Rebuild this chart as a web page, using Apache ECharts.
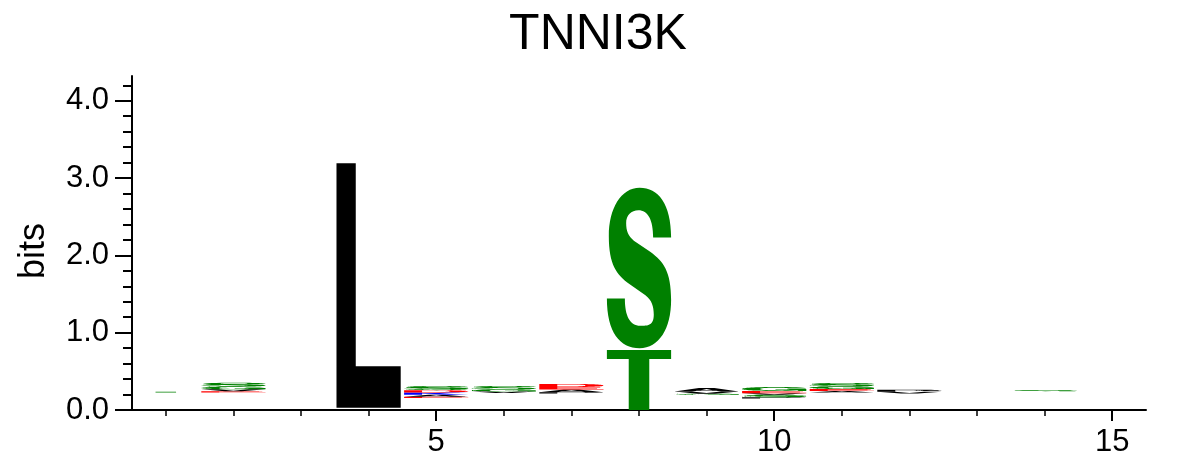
<!DOCTYPE html>
<html>
<head>
<meta charset="utf-8">
<script src="https://cdn.jsdelivr.net/npm/echarts@6/dist/echarts.min.js"></script>
<style>
html,body{margin:0;padding:0;background:#fff;}
#chart{width:1196px;height:471px;}
</style>
</head>
<body>
<div id="chart"></div>
<script>
// ---- data ----
const chartTitle = 'TNNI3K';
const positions = [1,2,3,4,5,6,7,8,9,10,11,12,13,14,15];
// letters from bottom to top; '' = undrawn residual (letters too small to show)
const stackLetters = [
  ['', 'T'],
  ['', 'E', 'V', 'G', 'S'],
  [],
  ['', 'L'],
  ['', 'E', 'A', 'K', 'D', 'S'],
  ['', 'V', 'G', 'S'],
  ['', 'P', 'A', 'E', 'D'],
  ['T', '', 'S'],
  ['', 'G', 'V', 'A'],
  ['', 'P', 'S', 'V', 'E', 'G'],
  ['', 'A', 'E', 'G', 'S'],
  ['', 'V', 'P'],
  [],
  ['', 'S'],
  []
];
const stackHeights = [
  [0.225, 0.012],
  [0.225, 0.018, 0.024, 0.035, 0.05],
  [],
  [0.03, 3.16],
  [0.155, 0.016, 0.026, 0.03, 0.03, 0.055],
  [0.22, 0.02, 0.025, 0.045],
  [0.215, 0.016, 0.035, 0.03, 0.04],
  [0.775, 0.025, 2.074],
  [0.195, 0.016, 0.028, 0.045],
  [0.15, 0.016, 0.03, 0.022, 0.028, 0.05],
  [0.225, 0.02, 0.026, 0.032, 0.045],
  [0.215, 0.02, 0.028],
  [],
  [0.24, 0.015],
  []
];
const xTickValues = [1,2,3,4,5,6,7,8,9,10,11,12,13,14,15];
const xLabelValues = [5, 10, 15];
const yLabelValues = [0, 1, 2, 3, 4];
const yMinorTickValues = [0,0.2,0.4,0.6,0.8,1,1.2,1.4,1.6,1.8,2,2.2,2.4,2.6,2.8,3,3.2,3.4,3.6,3.8,4,4.2];

// ---- glyph outlines (unit box, scaled to each letter's box) ----
const GLYPHS = {
  L: 'M0 0 H30 V83 H100 V100 H0 Z',
  T: 'M0 0 H100 V15 H66 V100 H34 V15 H0 Z',
  S: 'M100 31 C100 10 80 0 51 0 C22 0 3 13 3 30 C3 48 15 54 35 60 L60 67 C70 70 73 74 73 79 C73 86 64 86 52 86 C36 86 28 80 28 69 L0 69 C0 90 20 100 51 100 C81 100 100 88 100 70 C100 52 88 46 68 40 L42 33 C33 30 30 27 30 22 C30 17 38 14 49 14 C64 14 72 20 72 31 Z',
  E: 'M0 0 H95 V17 H28 V41 H90 V58 H28 V83 H100 V100 H0 Z',
  D: 'M0 0 H50 C85 0 100 20 100 50 C100 80 85 100 50 100 H0 Z M28 17 V83 H48 C65 83 72 70 72 50 C72 30 65 17 48 17 Z',
  A: 'M0 100 L38 0 H62 L100 100 H73 L65 78 H35 L27 100 Z M41 60 H59 L50 30 Z',
  V: 'M0 0 H27 L50 72 L73 0 H100 L63 100 H37 Z',
  K: 'M0 0 H28 V42 L68 0 H100 L55 45 L100 100 H68 L37 62 L28 71 V100 H0 Z',
  P: 'M0 0 H60 C85 0 100 13 100 32 C100 52 85 64 60 64 H28 V100 H0 Z M28 17 V47 H57 C67 47 72 41 72 32 C72 23 67 17 57 17 Z',
  G: 'M100 35 C97 12 78 0 52 0 C20 0 0 20 0 50 C0 80 20 100 50 100 C66 100 78 94 86 83 L88 98 H100 V48 H52 V64 H74 C72 77 63 84 51 84 C36 84 28 72 28 50 C28 28 37 16 51 16 C63 16 70 23 72 35 Z'
};
const COLORS = {
  G:'#008000', S:'#008000', T:'#008000', Y:'#008000', C:'#008000',
  N:'#800080', Q:'#800080',
  K:'#0000FF', R:'#0000FF', H:'#0000FF',
  D:'#FF0000', E:'#FF0000',
  A:'#000000', V:'#000000', L:'#000000', I:'#000000', P:'#000000', W:'#000000', F:'#000000', M:'#000000'
};

// build letter boxes from the stacks
const letterBoxes = [];
const letterChars = [];
positions.forEach((pos, i) => {
  let y = 0;
  stackLetters[i].forEach((ch, j) => {
    const h = stackHeights[i][j];
    if (ch) {
      letterBoxes.push([pos, y, y + h]);
      letterChars.push(ch);
    }
    y += h;
  });
});

const chart = echarts.init(document.getElementById('chart'), null, {renderer: 'canvas'});
const FONT = '"Liberation Sans", Arial, Helvetica, sans-serif';
const HALF = 0.475;

chart.setOption({
  animation: false,
  backgroundColor: '#ffffff',
  title: {
    text: chartTitle,
    left: 'center',
    top: 5,
    textStyle: {fontFamily: FONT, fontSize: 50, fontWeight: 'normal', color: '#000'}
  },
  grid: {left: 132, right: 50, top: 76, bottom: 61},
  xAxis: [
    {
      type: 'value', min: 0.5, max: 15.5,
      axisLine: {show: true, onZero: false, lineStyle: {color: '#000', width: 2}},
      axisTick: {show: true, customValues: xTickValues, length: 6, lineStyle: {color: '#000', width: 1.5}},
      axisLabel: {show: false},
      splitLine: {show: false}
    },
    {
      type: 'value', min: 0.5, max: 15.5, position: 'bottom',
      axisLine: {show: false, onZero: false},
      axisTick: {show: true, customValues: xLabelValues, length: 11, lineStyle: {color: '#000', width: 2}},
      axisLabel: {show: true, customValues: xLabelValues, margin: 17, fontFamily: FONT, fontSize: 31, color: '#000'},
      splitLine: {show: false}
    }
  ],
  yAxis: [
    {
      type: 'value', min: 0, max: 4.32,
      name: 'bits', nameLocation: 'middle', nameGap: 80, nameRotate: 90,
      nameTextStyle: {fontFamily: FONT, fontSize: 36, color: '#000', padding: [0, 0, 0, -16]},
      axisLine: {show: true, onZero: false, lineStyle: {color: '#000', width: 2}},
      axisTick: {show: true, customValues: yLabelValues, length: 17, lineStyle: {color: '#000', width: 2}},
      axisLabel: {show: true, customValues: yLabelValues, margin: 23, fontFamily: FONT, fontSize: 31, color: '#000',
        formatter: v => Number(v).toFixed(1)},
      splitLine: {show: false}
    },
    {
      type: 'value', min: 0, max: 4.32, position: 'left',
      axisLine: {show: false, onZero: false},
      axisTick: {show: true, customValues: yMinorTickValues, length: 9, lineStyle: {color: '#000', width: 2}},
      axisLabel: {show: false},
      splitLine: {show: false}
    }
  ],
  series: [{
    type: 'custom',
    xAxisIndex: 0,
    yAxisIndex: 0,
    data: letterBoxes,
    renderItem: function (params, api) {
      const x = api.value(0), y0 = api.value(1), y1 = api.value(2);
      const ch = letterChars[params.dataIndex];
      const p0 = api.coord([x - HALF, y0]);
      const p1 = api.coord([x + HALF, y1]);
      return {
        type: 'path',
        shape: {
          pathData: GLYPHS[ch],
          layout: 'cover',
          x: p0[0], y: p1[1],
          width: p1[0] - p0[0],
          height: Math.max(p0[1] - p1[1], 0.5)
        },
        style: {fill: COLORS[ch] || '#000'}
      };
    }
  }]
});
</script>
</body>
</html>
